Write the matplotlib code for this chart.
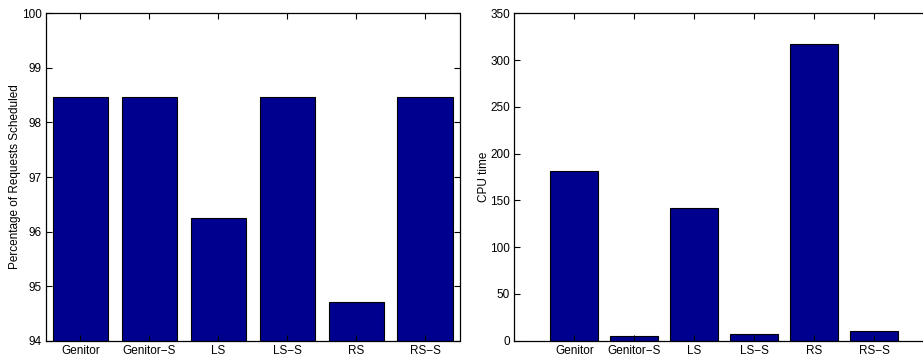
import numpy as np
import matplotlib
matplotlib.use('Agg')
import matplotlib.pyplot as plt

methods = ['Genitor', 'Genitor\u2212S', 'LS', 'LS\u2212S', 'RS', 'RS\u2212S']
pct_scheduled = [98.47, 98.47, 96.24, 98.47, 94.71, 98.47]
cpu_time = [181.8, 5.3, 141.5, 7.5, 317.5, 10.3]

plt.rcParams['font.family'] = ['Liberation Sans', 'DejaVu Sans']
plt.rcParams['font.size'] = 8.5

bar_color = '#00008F'

fig = plt.figure(figsize=(9.23, 3.58), dpi=100)
W, H = 923.0, 358.0

def style(ax):
    ax.tick_params(direction='in', length=4, width=0.8, top=True, right=True,
                   labelsize=8.5, pad=3)
    for s in ax.spines.values():
        s.set_linewidth(0.9)

x = np.arange(1, len(methods) + 1)

# left panel
ax1 = fig.add_axes([46 / W, 1 - 340.7 / H, (459.5 - 46) / W, (340.7 - 13.3) / H])
ax1.bar(x, pct_scheduled, width=0.8, color=bar_color, edgecolor='black', linewidth=0.8)
ax1.set_xlim(0.5, 6.5)
ax1.set_ylim(94, 100)
ax1.set_xticks(x)
ax1.set_xticklabels(methods)
ax1.set_yticks(np.arange(94, 101, 1))
ax1.set_ylabel('Percentage of Requests Scheduled', labelpad=1)
style(ax1)

# right panel (runs past the right edge like the original)
ax2 = fig.add_axes([514.3 / W, 1 - 340.7 / H, (934 - 514.3) / W, (340.7 - 13.3) / H])
ax2.bar(x, cpu_time, width=0.8, color=bar_color, edgecolor='black', linewidth=0.8)
ax2.set_xlim(0, 7)
ax2.set_ylim(0, 350)
ax2.set_xticks(x)
ax2.set_xticklabels(methods)
ax2.set_yticks(np.arange(0, 351, 50))
ax2.set_ylabel('CPU time', labelpad=0)
style(ax2)

fig.savefig('out.png', dpi=100)
